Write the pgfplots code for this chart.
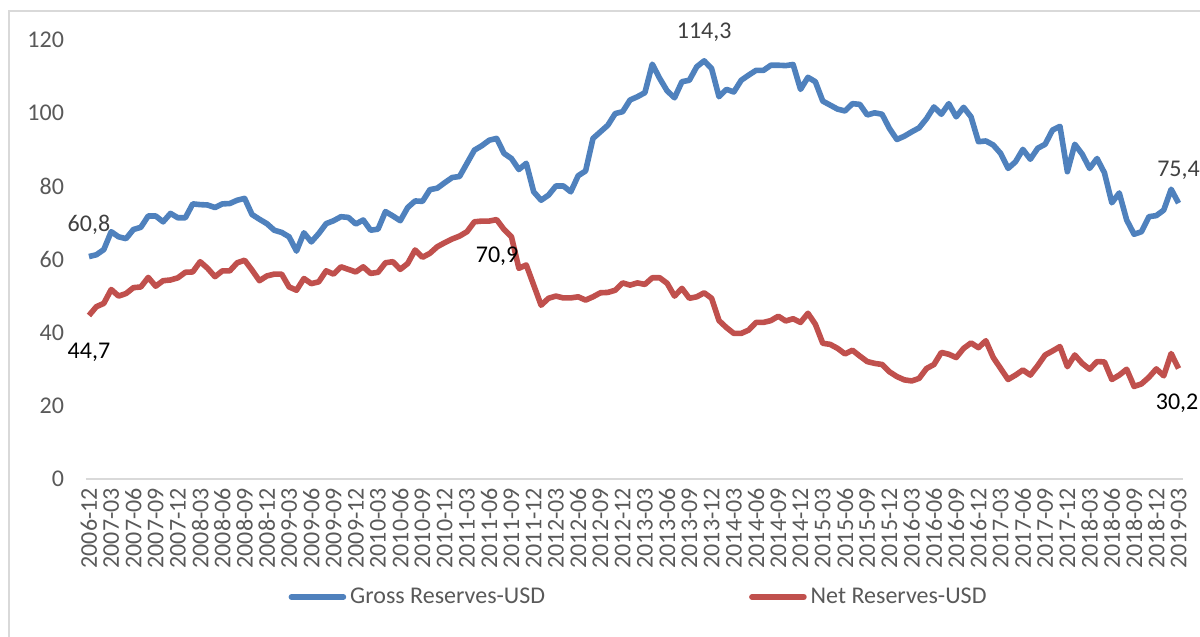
\documentclass[border=0pt]{standalone}
\usepackage{pgfplots}
\usepackage{pgfplotstable}
\pgfplotsset{compat=1.18}
\usepackage{fontspec}
\setmainfont{Carlito}
\definecolor{gblue}{HTML}{4F81BD}
\definecolor{nred}{HTML}{C0504D}
\definecolor{tgray}{HTML}{595959}
\definecolor{lgray}{HTML}{D9D9D9}
\pgfplotstableread{
i gross net
0 60.8 44.7
1 61.3 47.1
2 62.7 48.0
3 67.6 51.8
4 66.2 50.0
5 65.7 50.7
6 68.2 52.3
7 68.8 52.5
8 71.9 55.1
9 71.9 52.7
10 70.3 54.2
11 72.6 54.4
12 71.4 55.0
13 71.4 56.5
14 75.2 56.6
15 75.0 59.4
16 74.9 57.6
17 74.2 55.3
18 75.2 56.9
19 75.3 56.9
20 76.2 59.1
21 76.7 59.8
22 72.3 57.1
23 71.0 54.2
24 69.8 55.5
25 68.0 56.0
26 67.4 56.0
27 66.2 52.5
28 62.3 51.6
29 67.3 54.8
30 64.8 53.4
31 67.1 53.9
32 69.8 56.9
33 70.6 56.0
34 71.7 58.0
35 71.5 57.3
36 69.7 56.6
37 70.8 58.0
38 68.0 56.2
39 68.3 56.5
40 73.1 59.1
41 71.9 59.4
42 70.6 57.3
43 74.2 58.9
44 76.0 62.6
45 75.9 60.6
46 79.1 61.7
47 79.5 63.5
48 81.0 64.6
49 82.4 65.6
50 82.7 66.4
51 86.3 67.6
52 89.9 70.3
53 91.1 70.5
54 92.6 70.5
55 93.1 70.9
56 89.0 68.2
57 87.6 66.2
58 84.6 57.6
59 86.3 58.5
60 78.5 53.0
61 76.2 47.5
62 77.6 49.4
63 80.1 50.0
64 80.1 49.5
65 78.5 49.5
66 82.9 49.8
67 84.2 48.9
68 93.1 49.8
69 94.9 50.9
70 96.7 51.0
71 99.9 51.6
72 100.4 53.6
73 103.6 53.0
74 104.5 53.6
75 105.6 53.2
76 113.4 55.0
77 109.5 55.0
78 106.1 53.5
79 104.2 50.0
80 108.6 52.1
81 109.0 49.4
82 112.7 49.8
83 114.3 50.9
84 112.2 49.4
85 104.5 43.3
86 106.5 41.4
87 105.8 39.8
88 109.0 39.8
89 110.4 40.7
90 111.7 42.8
91 111.7 42.8
92 113.1 43.3
93 113.1 44.5
94 113.0 43.2
95 113.3 43.8
96 106.5 42.8
97 109.8 45.3
98 108.6 42.3
99 103.3 37.1
100 102.2 36.8
101 101.1 35.7
102 100.6 34.2
103 102.6 35.2
104 102.4 33.6
105 99.5 32.1
106 100.1 31.6
107 99.7 31.3
108 95.8 29.3
109 92.8 28.0
110 93.7 27.1
111 94.9 26.8
112 96.0 27.5
113 98.5 30.2
114 101.7 31.3
115 99.7 34.6
116 102.6 34.1
117 99.0 33.2
118 101.6 35.7
119 99.0 37.2
120 92.2 35.9
121 92.4 37.8
122 91.3 33.2
123 89.0 30.2
124 84.9 27.2
125 86.7 28.4
126 90.1 29.8
127 87.4 28.4
128 90.4 31.0
129 91.5 33.9
130 95.4 35.0
131 96.4 36.2
132 84.0 30.7
133 91.5 33.9
134 88.8 31.6
135 84.9 30.0
136 87.6 32.1
137 83.7 32.0
138 75.5 27.2
139 78.2 28.4
140 70.8 30.0
141 66.9 25.3
142 67.6 26.0
143 71.7 27.8
144 72.0 30.1
145 73.5 28.2
146 79.2 34.3
147 75.4 30.2
}\datatable
\begin{document}
\begin{tikzpicture}
\useasboundingbox (0pt,0pt) rectangle (600pt,318.5pt);
\draw[lgray, line width=1pt] (4.5pt,0pt) -- (4.5pt,313pt) -- (600pt,313pt);
\begin{axis}[
  at={(43pt,79pt)}, anchor=south west,
  scale only axis, width=548.5pt, height=219.5pt,
  xmin=-0.4, xmax=147.6, ymin=0, ymax=120,
  clip=false,
  axis x line=bottom, axis y line=left,
  x axis line style={-, draw=lgray, line width=1pt},
  y axis line style={draw=none},
  major tick length=0pt,
  ytick={0,20,...,120},
  xtick={0,3,...,147},
  xticklabels={2006-12,2007-03,2007-06,2007-09,2007-12,2008-03,2008-06,2008-09,2008-12,2009-03,2009-06,2009-09,2009-12,2010-03,2010-06,2010-09,2010-12,2011-03,2011-06,2011-09,2011-12,2012-03,2012-06,2012-09,2012-12,2013-03,2013-06,2013-09,2013-12,2014-03,2014-06,2014-09,2014-12,2015-03,2015-06,2015-09,2015-12,2016-03,2016-06,2016-09,2016-12,2017-03,2017-06,2017-09,2017-12,2018-03,2018-06,2018-09,2018-12,2019-03},
  /pgf/number format/assume math mode=true,
  tick label style={font=\fontsize{12}{14}\selectfont, text=tgray},
  yticklabel style={xshift=-7.5pt},
  xticklabel style={rotate=90, anchor=east, xshift=-1pt},
  legend columns=2,
  legend style={at={(0.5046,-0.2688)}, anchor=center, draw=none, fill=none,
    font=\fontsize{12}{14}\selectfont, text=tgray,
    /tikz/every even column/.append style={column sep=100pt}},
  legend image code/.code={\draw[#1, line cap=round] (0pt,0pt) -- (26pt,0pt);},
]
\addplot[gblue, line width=2.8pt, line join=round] table[x=i, y=gross] {\datatable};
\addlegendentry{Gross Reserves-USD}
\addplot[nred, line width=2.8pt, line join=round] table[x=i, y=net] {\datatable};
\addlegendentry{Net Reserves-USD}
\begin{scope}[every node/.style={font=\fontsize{12}{14}\selectfont}]
\node[text=black!75] at (axis cs:0,69.4) {60,8};
\node[text=black] at (axis cs:0,34.7) {44,7};
\node[text=black] at (axis cs:55.06,60.9) {70,9};
\node[text=black!75] at (axis cs:83,122.1) {114,3};
\node[text=black!75] at (axis cs:147,84.4) {75,4};
\node[text=black] at (axis cs:146.8,20.8) {30,2};
\end{scope}
\end{axis}
\end{tikzpicture}
\end{document}
